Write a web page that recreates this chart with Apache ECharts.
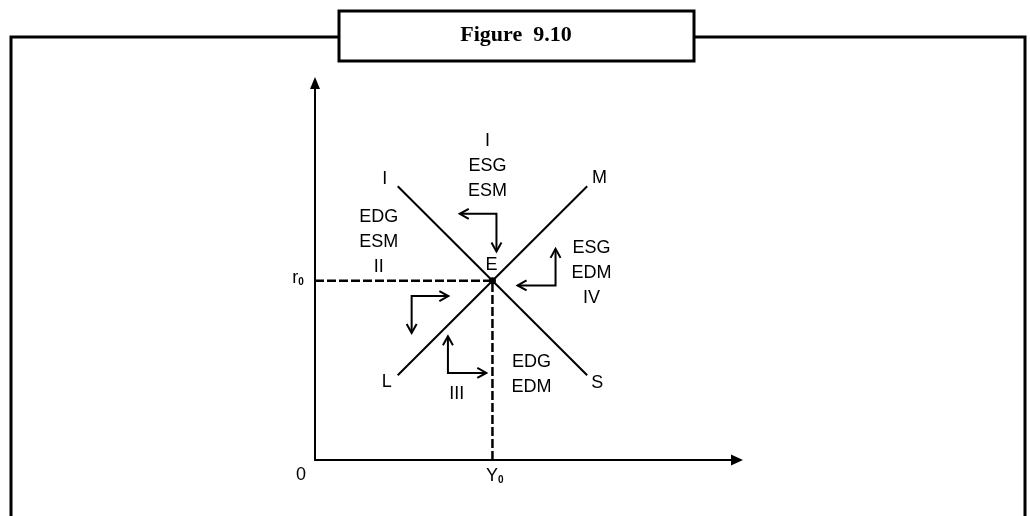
<!DOCTYPE html>
<html>
<head>
<meta charset="utf-8">
<script src="https://cdn.jsdelivr.net/npm/echarts@6/dist/echarts.min.js"></script>
<style>
  html, body { margin: 0; padding: 0; background: #fff; }
  #chart { width: 1030px; height: 516px; }
</style>
</head>
<body>
<div id="chart"></div>
<script>
// ---- data (abstract units, schematic IS-LM diagram) ----
const titleText = 'Figure  9.10';
const equilibrium = [42.05, 47.55];           // [Y0, r0]
const curveIS = [[19.6, 72.6], [64.5, 22.5]];  // I ... S
const curveLM = [[19.6, 22.5], [64.5, 72.6]];  // L ... M
// elbow arrows: [tipA, corner, tipB]
const arrows = [
  [[34.3, 65.3], [43.0, 65.3], [43.0, 55.3]],
  [[57.0, 56.0], [57.0, 46.3], [48.0, 46.3]],
  [[31.6, 43.5], [22.9, 43.5], [22.9, 33.7]],
  [[31.5, 32.8], [31.5, 23.1], [40.6, 23.1]]
];
const curveNames = [
  [16.5, 74.6, 'I'],
  [67.4, 74.9, 'M'],
  [17.0, 20.6, 'L'],
  [66.9, 20.4, 'S'],
  [41.8, 51.6, 'E']
];
const regionTexts = [
  [40.9, 78.0, 'I\nESG\nESM'],
  [15.1, 57.7, 'EDG\nESM\nII'],
  [65.5, 49.7, 'ESG\nEDM\nIV'],
  [51.3, 22.8, 'EDG\nEDM'],
  [33.6, 17.5, 'III']
];
const axisTexts = [
  [-3.3, -4.0, '0'],
  [42.6, -4.2, '{m|Y}{s|0}'],
  [-4.0, 48.3, '{m|r}{s|0}']
];

const FONT = '"Liberation Sans", Arial, sans-serif';
const chart = echarts.init(document.getElementById('chart'), null, { renderer: 'canvas' });

function textSeries(items, lh) {
  return {
    type: 'scatter',
    data: items.map(d => ({ value: [d[0], d[1]], name: d[2] })),
    symbolSize: 1,
    itemStyle: { color: 'transparent', opacity: 1 },
    clip: false,
    silent: true,
    z: 5,
    label: {
      show: true,
      position: 'inside',
      formatter: p => p.name,
      color: '#000',
      opacity: 1,
      fontFamily: FONT,
      fontSize: 18,
      lineHeight: lh,
      align: 'center',
      verticalAlign: 'middle',
      rich: {
        m: { fontFamily: FONT, fontSize: 18, color: '#000' },
        s: { fontFamily: FONT, fontSize: 10, fontWeight: 'bold', color: '#000', padding: [9, 0, 0, 0] }
      }
    }
  };
}

function chevron(tip, from, len, half) {
  const dx = tip[0] - from[0], dy = tip[1] - from[1];
  const L = Math.sqrt(dx * dx + dy * dy) || 1;
  const ux = dx / L, uy = dy / L;
  const px = -uy, py = ux;
  const bx = tip[0] - ux * len, by = tip[1] - uy * len;
  return [[bx + px * half, by + py * half], tip, [bx - px * half, by - py * half]];
}

const option = {
  animation: false,
  backgroundColor: '#fff',
  grid: { left: 315, right: 293, top: 83, bottom: 56 },
  xAxis: {
    type: 'value', min: 0, max: 100,
    axisLine: { show: true, symbol: ['none', 'triangle'], symbolSize: [11, 12], lineStyle: { color: '#000', width: 2 } },
    axisTick: { show: false }, axisLabel: { show: false }, splitLine: { show: false }
  },
  yAxis: {
    type: 'value', min: 0, max: 100,
    axisLine: { show: true, symbol: ['none', 'triangle'], symbolSize: [10, 12], lineStyle: { color: '#000', width: 2 } },
    axisTick: { show: false }, axisLabel: { show: false }, splitLine: { show: false }
  },
  graphic: [
    { type: 'polyline', shape: { points: [[11, 520], [11, 37], [339, 37]] }, style: { stroke: '#000', lineWidth: 3, fill: null } },
    { type: 'polyline', shape: { points: [[694, 37], [1025, 37], [1025, 520]] }, style: { stroke: '#000', lineWidth: 3, fill: null } },
    { type: 'rect', shape: { x: 339, y: 11, width: 355, height: 50 }, style: { stroke: '#000', lineWidth: 3, fill: '#fff' } },
    { type: 'text', x: 516, y: 35, style: { text: titleText, fontFamily: '"Liberation Serif", "DejaVu Serif", serif', fontWeight: 'bold', fontSize: 22, fill: '#000', align: 'center', verticalAlign: 'middle' } }
  ],
  series: [
    { type: 'line', data: curveIS, symbol: 'none', lineStyle: { color: '#000', width: 2 }, silent: true },
    { type: 'line', data: curveLM, symbol: 'none', lineStyle: { color: '#000', width: 2 }, silent: true },
    { type: 'line', data: [[0, equilibrium[1]], equilibrium], symbol: 'none', lineStyle: { color: '#000', width: 2.5, type: [9, 3] }, silent: true },
    { type: 'line', data: [[equilibrium[0], 0], equilibrium], symbol: 'none', lineStyle: { color: '#000', width: 2.5, type: [9, 3] }, silent: true },
    { type: 'scatter', data: [equilibrium], symbol: 'circle', symbolSize: 7, itemStyle: { color: '#000', opacity: 1 }, silent: true, z: 4 },
    {
      type: 'custom',
      silent: true,
      data: arrows.map(a => [a[0][0], a[0][1], a[1][0], a[1][1], a[2][0], a[2][1]]),
      encode: { x: [0, 2, 4], y: [1, 3, 5] },
      renderItem: function (params, api) {
        const a = api.coord([api.value(0), api.value(1)]);
        const c = api.coord([api.value(2), api.value(3)]);
        const b = api.coord([api.value(4), api.value(5)]);
        const st = { stroke: '#000', lineWidth: 2, fill: null, lineJoin: 'miter' };
        return {
          type: 'group',
          children: [
            { type: 'polyline', shape: { points: [a, c, b] }, style: st },
            { type: 'polyline', shape: { points: chevron(a, c, 9, 5) }, style: st },
            { type: 'polyline', shape: { points: chevron(b, c, 9, 5) }, style: st }
          ]
        };
      }
    },
    textSeries(curveNames, 20),
    textSeries(regionTexts, 25),
    textSeries(axisTexts, 20)
  ]
};
chart.setOption(option);
</script>
</body>
</html>
